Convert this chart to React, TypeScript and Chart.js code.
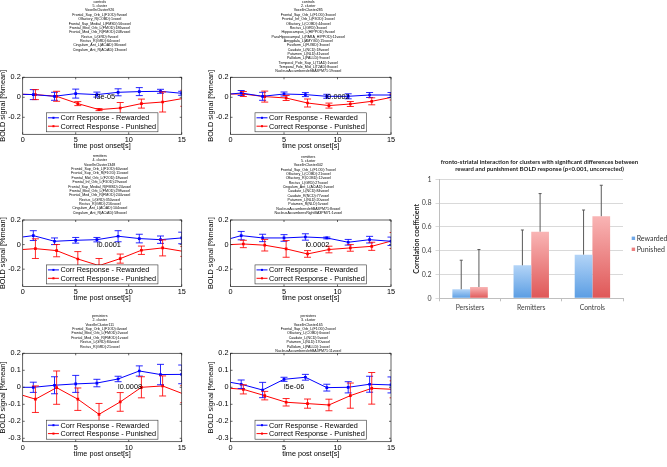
import React, { useEffect, useRef } from 'react';
import { Chart, registerables } from 'chart.js';

Chart.register(...registerables);

// ---------------- data ----------------
const timeRewarded = [0, 1, 3, 5, 7, 9, 11, 13, 15];
const timePunished = [0, 1.2, 3.2, 5.2, 7.2, 9.2, 11.2, 13.2, 15.2];
const xTicks = [0, 5, 10, 15];
const yTicksCoarse = [0.2, 0, -0.2];
const yTicksFine = [0.2, 0.1, 0, -0.1, -0.2, -0.3];
const seriesRewarded = 'Corr Response - Rewarded';
const seriesPunished = 'Correct Response - Punished';

const p1Title = ['controls', '5. cluster', 'VoxelInCluster926', 'Frontal_Sup_Orb_L(F1OD):9voxel', 'Olfactory_R(COBD):1voxel', 'Frontal_Sup_Medial_L(FMSD):56voxel', 'Frontal_Med_Orb_L(FMOD):186voxel', 'Frontal_Med_Orb_R(FMOD):248voxel', 'Rectus_L(GRD):9voxel', 'Rectus_R(GRD):64voxel', 'Cingulum_Ant_L(ACiAD):36voxel', 'Cingulum_Ant_R(ACiAD):13voxel'];
const p1Rewarded = [0.03, 0.027, 0.01, 0.037, 0.027, 0.05, 0.057, 0.06, 0.04];
const p1RewardedErr = [0, 0.05, 0.04, 0.045, 0.025, 0.035, 0.04, 0.02, 0.02];
const p1Punished = [0.03, 0.027, 0.01, -0.063, -0.123, -0.107, -0.063, -0.047, -0.01];
const p1PunishedErr = [0, 0.05, 0.05, 0.02, 0.01, 0.055, 0.045, 0.1, 0.08];

const p2Title = ['controls', '2. cluster', 'VoxelInCluster285', 'Frontal_Sup_Orb_L(F1OD):3voxel', 'Frontal_Inf_Orb_L(F3OD):1voxel', 'Olfactory_L(COBD):44voxel', 'Rectus_L(GRD):3voxel', 'Hippocampus_L(HIPPOD):9voxel', 'ParaHippocampal_L(PARA_HIPPOD):11voxel', 'Amygdala_L(AMYGD):15voxel', 'Fusiform_L(FUSID):3voxel', 'Caudate_L(NCD):18voxel', 'Putamen_L(NLD):41voxel', 'Pallidum_L(PALLD):9voxel', 'Temporal_Pole_Sup_L(T1AD):1voxel', 'Temporal_Pole_Mid_L(T2AD):8voxel', 'NucleusAccumbensleftBA3PM71:19voxel'];
const p2Rewarded = [0.033, 0.043, 0.01, 0.033, 0.027, 0.01, 0.01, 0.023, 0.023];
const p2RewardedErr = [0, 0.025, 0.04, 0.02, 0.02, 0.02, 0.025, 0.025, 0.025];
const p2Punished = [0.033, 0.033, 0.007, -0.007, -0.057, -0.083, -0.067, -0.04, 0.003];
const p2PunishedErr = [0, 0.025, 0.055, 0.025, 0.04, 0.025, 0.025, 0.035, 0.03];

const p3Title = ['remitters', '4. cluster', 'VoxelInCluster1348', 'Frontal_Sup_Orb_L(F1OD):60voxel', 'Frontal_Sup_Orb_R(F1OD):11voxel', 'Frontal_Mid_Orb_L(F2OD):18voxel', 'Frontal_Inf_Orb_L(F3OD):29voxel', 'Frontal_Sup_Medial_R(FMSD):24voxel', 'Frontal_Med_Orb_L(FMOD):298voxel', 'Frontal_Med_Orb_R(FMOD):244voxel', 'Rectus_L(GRD):350voxel', 'Rectus_R(GRD):216voxel', 'Cingulum_Ant_L(ACiAD):104voxel', 'Cingulum_Ant_R(ACiAD):58voxel'];
const p3Rewarded = [0.062, 0.073, 0.027, 0.035, 0.04, 0.068, 0.049, 0.04, 0.054];
const p3RewardedErr = [0, 0.04, 0.027, 0.023, 0.018, 0.045, 0.035, 0.03, 0.047];
const p3Punished = [-0.04, -0.033, -0.049, -0.117, -0.171, -0.114, -0.046, -0.027, -0.056];
const p3PunishedErr = [0, 0.08, 0.05, 0.06, 0.058, 0.037, 0.034, 0.065, 0.04];

const p4Title = ['remitters', '5. cluster', 'VoxelInCluster342', 'Frontal_Sup_Orb_L(F1OD):7voxel', 'Olfactory_L(COBD):21voxel', 'Olfactory_R(COBD):12voxel', 'Rectus_L(GRD):27voxel', 'Cingulum_Ant_L(ACiAD):1voxel', 'Caudate_L(NCD):84voxel', 'Caudate_R(NCD):77voxel', 'Putamen_L(NLD):20voxel', 'Putamen_R(NLD):5voxel', 'NucleusAccumbensleftBA3PM71:8voxel', 'NucleusAccumbensRightBA3PM71:1voxel'];
const p4Rewarded = [0.049, 0.073, 0.054, 0.054, 0.062, 0.054, 0.019, 0.04, 0.027];
const p4RewardedErr = [0, 0.034, 0.03, 0.027, 0.026, 0.007, 0.023, 0.027, 0.034];
const p4Punished = [0, 0.005, -0.005, -0.035, -0.076, -0.04, -0.027, -0.014, 0.033];
const p4PunishedErr = [0, 0.03, 0.047, 0.068, 0.027, 0.027, 0.027, 0.033, 0.065];

const p5Title = ['persisters', '2. cluster', 'VoxelInCluster111', 'Frontal_Sup_Orb_L(F1OD):4voxel', 'Frontal_Med_Orb_L(FMOD):2voxel', 'Frontal_Med_Orb_R(FMOD):1voxel', 'Rectus_L(GRD):84voxel', 'Rectus_R(GRD):21voxel'];
const p5Rewarded = [0, 0, 0.012, 0.02, 0.025, 0.049, 0.096, 0.075, 0.076];
const p5RewardedErr = [0, 0.03, 0.05, 0.05, 0.022, 0.016, 0.03, 0.06, 0.055];
const p5Punished = [-0.047, -0.07, -0.002, -0.07, -0.159, -0.086, 0, 0.008, -0.04];
const p5PunishedErr = [0, 0.078, 0.098, 0.066, 0.064, 0.055, 0.062, 0.059, 0.05];

const p6Title = ['persisters', '3. cluster', 'VoxelInCluster165', 'Frontal_Sup_Orb_L(F1OD):2voxel', 'Olfactory_L(COBD):6voxel', 'Caudate_L(NCD):5voxel', 'Putamen_L(NLD):170voxel', 'Pallidum_L(PALLD):1voxel', 'NucleusAccumbensleftBA3PM71:11voxel'];
const p6Rewarded = [0.029, 0.018, -0.016, 0.047, 0.059, -0.002, 0, 0.018, 0.014];
const p6RewardedErr = [0, 0.025, 0.045, 0.012, 0.017, 0.02, 0.033, 0.047, 0.047];
const p6Punished = [-0.006, -0.012, -0.049, -0.088, -0.096, -0.104, -0.049, -0.006, -0.012];
const p6PunishedErr = [0, 0.027, 0.025, 0.022, 0.027, 0.034, 0.074, 0.093, 0.05];

const pLabels = ['l3e-05', 'l0.0002', 'l0.0001', 'l0.0002', 'l0.0008', 'l5e-06'];
const pLabelX = [6.8, 8.9, 7, 7, 9, 5];
const yMins = [-0.37, -0.37, -0.34, -0.34, -0.32, -0.32];

const groups = ['Persisters', 'Remitters', 'Controls'];
const rewarded = [0.076, 0.277, 0.367];
const rewardedErr = [0.244, 0.297, 0.375];
const punished = [0.095, 0.56, 0.69];
const punishedErr = [0.315, 0.32, 0.26];
const barTicks = [0, 0.2, 0.4, 0.6, 0.8, 1];
const barTitle = ['fronto-striatal interaction for clusters with significant differences between', 'reward and punishment BOLD response (p<0.001, uncorrected)'];

// ---------------- styling / layout ----------------
const FONT = '"Liberation Sans", Arial, Helvetica, sans-serif';
const BAR_FONT = 'Lato, "Open Sans", sans-serif';
const FS = 7.3;
const TITLE_FS = 3.6;
const LH = 4.36;

const panels = [
  { title: p1Title, rew: p1Rewarded, rewErr: p1RewardedErr, pun: p1Punished, punErr: p1PunishedErr, yTicks: yTicksCoarse, geo: { L: 22.7, R: 181.7, T: 77.3, B: 134.3, titleY: 1.7 } },
  { title: p2Title, rew: p2Rewarded, rewErr: p2RewardedErr, pun: p2Punished, punErr: p2PunishedErr, yTicks: yTicksCoarse, geo: { L: 230.5, R: 391, T: 77.3, B: 134.3, titleY: 1.7 } },
  { title: p3Title, rew: p3Rewarded, rewErr: p3RewardedErr, pun: p3Punished, punErr: p3PunishedErr, yTicks: yTicksCoarse, geo: { L: 22.7, R: 181.7, T: 220, B: 286.4, titleY: 156 } },
  { title: p4Title, rew: p4Rewarded, rewErr: p4RewardedErr, pun: p4Punished, punErr: p4PunishedErr, yTicks: yTicksCoarse, geo: { L: 230.5, R: 391, T: 220, B: 286.4, titleY: 156.5 } },
  { title: p5Title, rew: p5Rewarded, rewErr: p5RewardedErr, pun: p5Punished, punErr: p5PunishedErr, yTicks: yTicksFine, geo: { L: 22.7, R: 181.7, T: 353.3, B: 441.7, titleY: 316 } },
  { title: p6Title, rew: p6Rewarded, rewErr: p6RewardedErr, pun: p6Punished, punErr: p6PunishedErr, yTicks: yTicksFine, geo: { L: 230.5, R: 391, T: 353.3, B: 441.7, titleY: 316 } },
];

const fmt = (v: number) => String(Number(v.toFixed(2)));

function lineGeometry(g: any) {
  const cl = Math.floor(g.L) - 23;
  const cr = Math.ceil(g.R) + 18;
  const ct = Math.floor(g.titleY - LH / 2) - 1;
  const cb = Math.ceil(g.B) + 18;
  return {
    cl, ct, w: cr - cl, h: cb - ct,
    padR: cr - g.R,
    padT: g.T - ct,
    yAxisW: g.L - cl,
    xAxisH: cb - g.B,
    titleTop: g.titleY - ct,
  };
}

function buildLineConfig(p: any, idx: number, geo: any) {
  const font = { size: FS, family: FONT };
  const plugins = [
    {
      id: 'errorBars',
      afterDatasetsDraw(chart: any) {
        const { ctx, chartArea: a, scales } = chart;
        const xs = scales.x, ys = scales.y;
        ctx.save();
        ctx.beginPath();
        ctx.rect(a.left, a.top, a.right - a.left, a.bottom - a.top);
        ctx.clip();
        chart.data.datasets.forEach((ds: any) => {
          ctx.strokeStyle = ds.borderColor;
          ctx.lineWidth = 0.85;
          ds.data.forEach((pt: any, j: number) => {
            const e = ds.errors[j];
            if (!e) return;
            const px = xs.getPixelForValue(pt.x);
            const y1 = ys.getPixelForValue(pt.y - e);
            const y2 = ys.getPixelForValue(pt.y + e);
            ctx.beginPath();
            ctx.moveTo(px, y1); ctx.lineTo(px, y2);
            ctx.moveTo(px - 3.5, y1); ctx.lineTo(px + 3.5, y1);
            ctx.moveTo(px - 3.5, y2); ctx.lineTo(px + 3.5, y2);
            ctx.stroke();
          });
        });
        ctx.restore();
      },
    },
    {
      id: 'pValue',
      afterDatasetsDraw(chart: any) {
        const { ctx, scales } = chart;
        ctx.save();
        ctx.fillStyle = '#000';
        ctx.font = `${FS}px ${FONT}`;
        ctx.textAlign = 'left';
        ctx.textBaseline = 'middle';
        ctx.fillText(pLabels[idx], scales.x.getPixelForValue(pLabelX[idx]), scales.y.getPixelForValue(0));
        ctx.restore();
      },
    },
    {
      id: 'axesBox',
      afterDraw(chart: any) {
        const { ctx, chartArea: a, scales } = chart;
        ctx.save();
        ctx.strokeStyle = '#222';
        ctx.lineWidth = 0.7;
        ctx.strokeRect(a.left, a.top, a.right - a.left, a.bottom - a.top);
        ctx.beginPath();
        xTicks.forEach((v) => {
          const px = scales.x.getPixelForValue(v);
          ctx.moveTo(px, a.bottom); ctx.lineTo(px, a.bottom - 2);
          ctx.moveTo(px, a.top); ctx.lineTo(px, a.top + 2);
        });
        p.yTicks.forEach((v: number) => {
          const py = scales.y.getPixelForValue(v);
          ctx.moveTo(a.left, py); ctx.lineTo(a.left + 2, py);
          ctx.moveTo(a.right, py); ctx.lineTo(a.right - 2, py);
        });
        ctx.stroke();
        ctx.restore();
      },
    },
    {
      id: 'matlabLegend',
      afterDraw(chart: any) {
        const { ctx, chartArea: a } = chart;
        const w = 111.5, h = 19;
        const x0 = (a.left + a.right) / 2 - w / 2;
        const y0 = a.bottom - 2.5 - h;
        ctx.save();
        ctx.fillStyle = '#fff';
        ctx.fillRect(x0, y0, w, h);
        ctx.strokeStyle = '#333';
        ctx.lineWidth = 0.6;
        ctx.strokeRect(x0, y0, w, h);
        chart.data.datasets.forEach((ds: any, i: number) => {
          const y = y0 + 5 + i * 8.4;
          ctx.strokeStyle = ds.borderColor;
          ctx.lineWidth = 1;
          ctx.beginPath();
          ctx.moveTo(x0 + 1.5, y); ctx.lineTo(x0 + 12.5, y);
          ctx.stroke();
          ctx.fillStyle = ds.borderColor;
          ctx.fillRect(x0 + 6, y - 1, 2, 2);
          ctx.fillStyle = '#000';
          ctx.font = `${FS}px ${FONT}`;
          ctx.textAlign = 'left';
          ctx.textBaseline = 'middle';
          ctx.fillText(ds.label, x0 + 14, y + 0.3);
        });
        ctx.restore();
      },
    },
    {
      id: 'panelTitle',
      afterDraw(chart: any) {
        const { ctx, chartArea: a } = chart;
        ctx.save();
        ctx.fillStyle = '#000';
        ctx.font = `${TITLE_FS}px ${FONT}`;
        ctx.textAlign = 'center';
        ctx.textBaseline = 'middle';
        const cx = (a.left + a.right) / 2 - 2.5;
        p.title.forEach((line: string, i: number) => ctx.fillText(line, cx, geo.titleTop + i * LH));
        ctx.restore();
      },
    },
  ];

  const mkSet = (label: string, xs: number[], ys: number[], errs: number[], color: string) => ({
    label,
    data: xs.map((t, i) => ({ x: t, y: ys[i] })),
    errors: errs,
    borderColor: color,
    backgroundColor: color,
    pointBackgroundColor: color,
    borderWidth: 1,
    pointRadius: (c: any) => (c.dataIndex === 0 ? 0 : 1.9),
    pointStyle: 'rect',
    pointBorderWidth: 0,
    tension: 0,
  });

  return {
    type: 'line',
    data: {
      datasets: [
        mkSet(seriesRewarded, timeRewarded, p.rew, p.rewErr, '#0000ff'),
        mkSet(seriesPunished, timePunished, p.pun, p.punErr, '#ff0000'),
      ],
    },
    options: {
      animation: false,
      responsive: false,
      events: [],
      layout: { padding: { left: 0, right: geo.padR, top: geo.padT, bottom: 0 } },
      plugins: { legend: { display: false }, title: { display: false }, tooltip: { enabled: false } },
      scales: {
        x: {
          type: 'linear',
          min: 0,
          max: 15,
          afterBuildTicks: (s: any) => { s.ticks = xTicks.map((v) => ({ value: v })); },
          afterFit: (s: any) => { s.height = geo.xAxisH; },
          grid: { display: false, drawTicks: false },
          border: { display: false },
          ticks: { font, color: '#000', padding: 1.5, maxRotation: 0, autoSkip: false, callback: (v: number) => fmt(v) },
          title: { display: true, text: 'time post onset[s]', font, color: '#000', padding: { top: 0, bottom: Math.max(0, geo.xAxisH - 12 - FS * 0.6) } },
        },
        y: {
          type: 'linear',
          min: yMins[idx],
          max: 0.2,
          afterBuildTicks: (s: any) => { s.ticks = p.yTicks.map((v: number) => ({ value: v })); },
          afterFit: (s: any) => { s.width = geo.yAxisW; },
          grid: { display: false, drawTicks: false },
          border: { display: false },
          ticks: { font, color: '#000', padding: 2, autoSkip: false, callback: (v: number) => fmt(v) },
          title: { display: true, text: 'BOLD signal [%mean]', font, color: '#000', padding: { top: 0, bottom: 0 } },
        },
      },
    },
    plugins,
  };
}

function LinePanel({ p, idx }: { p: any; idx: number }) {
  const ref = useRef<HTMLCanvasElement | null>(null);
  const geo = lineGeometry(p.geo);
  useEffect(() => {
    const chart = new Chart(ref.current as any, buildLineConfig(p, idx, geo) as any);
    return () => chart.destroy();
  }, []);
  return (
    <canvas
      ref={ref}
      width={geo.w}
      height={geo.h}
      style={{ position: 'absolute', left: geo.cl, top: geo.ct, width: geo.w, height: geo.h }}
    />
  );
}

function barGradient(c: any, top: string, bottom: string) {
  const chart = c.chart;
  const ys = chart.scales && chart.scales.y;
  if (!ys || !chart.chartArea || c.type !== 'data') return bottom;
  const yTop = ys.getPixelForValue(c.raw);
  const yBot = ys.getPixelForValue(0);
  if (!isFinite(yTop) || !isFinite(yBot) || yTop === yBot) return bottom;
  const g = chart.ctx.createLinearGradient(0, yTop, 0, yBot);
  g.addColorStop(0, top);
  g.addColorStop(1, bottom);
  return g;
}

const BAR_LEFT = 412, BAR_TOP = 155, BAR_W = 255, BAR_H = 160;

function BarPanel() {
  const ref = useRef<HTMLCanvasElement | null>(null);
  useEffect(() => {
    const plugins = [
      {
        id: 'barErrors',
        afterDatasetsDraw(chart: any) {
          const { ctx, scales } = chart;
          ctx.save();
          ctx.strokeStyle = '#5a5a5a';
          ctx.lineWidth = 1;
          chart.data.datasets.forEach((ds: any, i: number) => {
            const meta = chart.getDatasetMeta(i);
            meta.data.forEach((el: any, j: number) => {
              const yTop = scales.y.getPixelForValue(ds.data[j] + ds.errors[j]);
              ctx.beginPath();
              ctx.moveTo(el.x, el.y);
              ctx.lineTo(el.x, yTop);
              ctx.moveTo(el.x - 1.5, yTop);
              ctx.lineTo(el.x + 1.5, yTop);
              ctx.stroke();
            });
          });
          ctx.restore();
        },
      },
      {
        id: 'barTitle',
        afterDraw(chart: any) {
          const { ctx } = chart;
          ctx.save();
          ctx.fillStyle = '#1a1a1a';
          ctx.font = `bold 6px ${BAR_FONT}`;
          ctx.textAlign = 'center';
          ctx.textBaseline = 'middle';
          barTitle.forEach((line, i) => ctx.fillText(line, 539.5 - BAR_LEFT, 162.3 - BAR_TOP + i * 6.7));
          ctx.restore();
        },
      },
      {
        id: 'barLegend',
        afterDraw(chart: any) {
          const { ctx, chartArea: a } = chart;
          const x0 = a.right + 8.7;
          const cy = (a.top + a.bottom) / 2;
          const colors = ['#6fa8e8', '#ec7f7f'];
          ctx.save();
          ctx.font = `7px ${BAR_FONT}`;
          ctx.textAlign = 'left';
          ctx.textBaseline = 'middle';
          chart.data.datasets.forEach((ds: any, i: number) => {
            const y = cy - 0.5 + i * 11;
            ctx.fillStyle = colors[i];
            ctx.fillRect(x0, y - 1.7, 3.4, 3.4);
            ctx.fillStyle = '#333';
            ctx.fillText(ds.label, x0 + 5, y);
          });
          ctx.restore();
        },
      },
    ];
    const chart = new Chart(ref.current as any, {
      type: 'bar',
      data: {
        labels: groups,
        datasets: [
          { label: 'Rewarded', data: rewarded, errors: rewardedErr, backgroundColor: (c: any) => barGradient(c, '#b3d4f7', '#5a9de3'), borderWidth: 0, categoryPercentage: 0.579, barPercentage: 1 },
          { label: 'Punished', data: punished, errors: punishedErr, backgroundColor: (c: any) => barGradient(c, '#f9b5b5', '#df5757'), borderWidth: 0, categoryPercentage: 0.579, barPercentage: 1 },
        ] as any,
      },
      options: {
        animation: false,
        responsive: false,
        events: [],
        layout: { padding: { left: 0, right: 44, top: 24.3, bottom: 0 } },
        plugins: { legend: { display: false }, title: { display: false }, tooltip: { enabled: false } },
        scales: {
          x: {
            grid: { display: true, drawOnChartArea: false, drawTicks: true, tickLength: 3, color: '#bfbfbf', offset: true },
            border: { display: true, color: '#bfbfbf', width: 1 },
            ticks: { font: { size: 6.8, family: BAR_FONT }, color: '#404040', padding: 2.9 },
            afterFit: (s: any) => { s.height = 16.7; },
          },
          y: {
            min: 0,
            max: 1,
            afterBuildTicks: (s: any) => { s.ticks = barTicks.map((v) => ({ value: v })); },
            afterFit: (s: any) => { s.width = 27.5; },
            grid: { color: '#d9d9d9', tickLength: 4, drawTicks: true },
            border: { display: true, color: '#bfbfbf' },
            ticks: { font: { size: 7, family: BAR_FONT }, color: '#404040', padding: 4, callback: (v: number) => fmt(v) },
            title: { display: true, text: 'Correlation coefficient', font: { size: 7, family: BAR_FONT, weight: 'bold' }, color: '#222', padding: { top: 0.5, bottom: 0 } },
          },
        },
      } as any,
      plugins,
    } as any);
    return () => chart.destroy();
  }, []);
  return (
    <canvas
      ref={ref}
      width={BAR_W}
      height={BAR_H}
      style={{ position: 'absolute', left: BAR_LEFT, top: BAR_TOP, width: BAR_W, height: BAR_H }}
    />
  );
}

export default function App() {
  useEffect(() => {
    document.body.style.margin = '0';
  }, []);
  return (
    <div style={{ position: 'fixed', left: 0, top: 0, width: 667, height: 467, background: '#fff', overflow: 'hidden' }}>
      {panels.map((p, i) => (
        <LinePanel key={i} p={p} idx={i} />
      ))}
      <BarPanel />
    </div>
  );
}
